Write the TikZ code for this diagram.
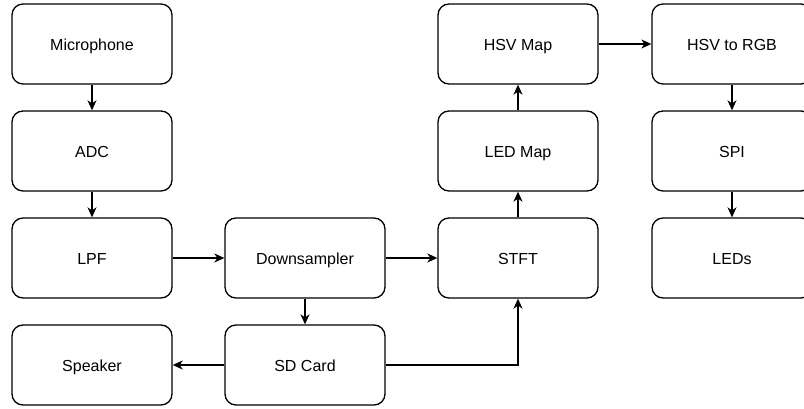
\documentclass[tikz,border=0pt]{standalone}
\usepackage{fontspec}
\setmainfont{Liberation Sans}
\usetikzlibrary{arrows.meta}
\begin{document}
\begin{tikzpicture}[x=1pt,y=-1pt,
  blockbox/.style={draw, line width=1.3pt, rounded corners=11pt, minimum width=160pt, minimum height=80pt, inner sep=0pt, text height=13pt, text depth=0pt, font=\fontsize{16}{18}\selectfont, anchor=center},
  flow/.style={draw, line width=1.3pt, -{Stealth[length=10pt,width=9pt,inset=3pt]}}]
\path[use as bounding box] (0,0) rectangle (804,409);
\begin{scope}
\clip (0,0) rectangle (804,409);
\node[blockbox] (mic) at (92,44) {Microphone};
\node[blockbox] (adc) at (92,151) {ADC};
\node[blockbox] (lpf) at (92,258) {LPF};
\node[blockbox] (spk) at (92,365) {Speaker};
\node[blockbox] (down) at (305,258) {Downsampler};
\node[blockbox] (sd) at (305,365) {SD Card};
\node[blockbox] (stft) at (518,258) {STFT};
\node[blockbox] (led) at (518,151) {LED Map};
\node[blockbox] (hsv) at (518,44) {HSV Map};
\node[blockbox] (rgb) at (732,44) {HSV to RGB};
\node[blockbox] (spi) at (732,151) {SPI};
\node[blockbox] (leds) at (732,258) {LEDs};
\draw[flow] (mic) -- (adc);
\draw[flow] (adc) -- (lpf);
\draw[flow] (lpf) -- (down);
\draw[flow] (down) -- (stft);
\draw[flow] (down) -- (sd);
\draw[flow] (sd) -- (spk);
\draw[flow] (sd.east) -| (stft.south);
\draw[flow] (stft) -- (led);
\draw[flow] (led) -- (hsv);
\draw[flow] (hsv) -- (rgb);
\draw[flow] (rgb) -- (spi);
\draw[flow] (spi) -- (leds);
\end{scope}
\end{tikzpicture}
\end{document}
